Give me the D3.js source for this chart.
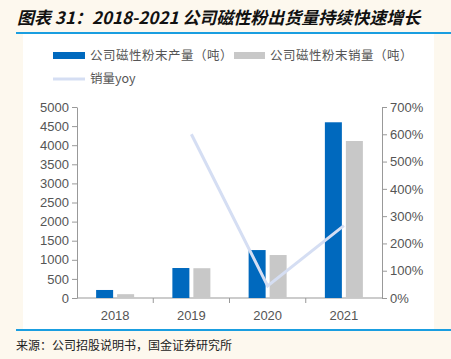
<!DOCTYPE html>
<html>
<head>
<meta charset="utf-8">
<script src="https://cdn.jsdelivr.net/npm/d3@7"></script>
<style>
  body { margin: 0; background: #fdf8ee; }
  svg { display: block; }
</style>
</head>
<body>
<div id="chart"></div>
<script>
  // data
  var years = ['2018', '2019', '2020', '2021'];
  var production = [210, 785, 1255, 4600];
  var sales = [100, 780, 1125, 4110];
  var yoy = [null, 6.0, 0.44, 2.65];
  var leftTicks = [0, 500, 1000, 1500, 2000, 2500, 3000, 3500, 4000, 4500, 5000];
  var rightTicks = [0, 1, 2, 3, 4, 5, 6, 7];

  var W = 451, H = 359;
  var cBlue = '#0069be', cGray = '#c8c8c8', cLine = '#d5def3';
  var cjk = '"Noto Sans CJK SC", sans-serif';

  var svg = d3.select('#chart').append('svg')
    .attr('width', W).attr('height', H);

  // background panel + rules
  svg.append('rect').attr('x', 23).attr('y', 34).attr('width', 411).attr('height', 296).attr('fill', '#fff');
  svg.append('rect').attr('x', 16).attr('y', 32).attr('width', 435).attr('height', 2).attr('fill', '#1a9ee0');
  svg.append('rect').attr('x', 16).attr('y', 329).attr('width', 435).attr('height', 2).attr('fill', '#1a9ee0');

  svg.append('text').attr('x', 17).attr('y', 24)
    .style('font-family', cjk).style('font-size', '17px')
    .style('font-weight', 'bold').style('font-style', 'italic')
    .attr('fill', '#111')
    .text('图表 31：2018-2021 公司磁性粉出货量持续快速增长');

  svg.append('text').attr('x', 16).attr('y', 350)
    .style('font-family', cjk).style('font-size', '12px')
    .attr('fill', '#222')
    .text('来源：公司招股说明书，国金证券研究所');

  // scales
  var x0 = d3.scaleBand().domain(years).range([77, 382]);
  var y = d3.scaleLinear().domain([0, 5000]).range([298, 107]);
  var y2 = d3.scaleLinear().domain([0, 7]).range([298, 107]);

  var tickFont = function(g) {
    g.selectAll('text').style('font-family', '"Liberation Sans", Arial, sans-serif')
      .style('font-size', '13px').attr('fill', '#555');
    g.selectAll('line, path').attr('stroke', '#999');
  };

  svg.append('g').attr('transform', 'translate(77,0)')
    .call(d3.axisLeft(y).tickValues(leftTicks).tickFormat(d3.format('d'))
      .tickSize(5).tickSizeOuter(0).tickPadding(3))
    .call(tickFont);

  svg.append('g').attr('transform', 'translate(382,0)')
    .call(d3.axisRight(y2).tickValues(rightTicks).tickFormat(function(d) { return (d * 100) + '%'; })
      .tickSize(5).tickSizeOuter(0).tickPadding(3))
    .call(tickFont);

  // x axis with ticks at band boundaries
  var xg = svg.append('g').attr('transform', 'translate(0,298)');
  xg.append('line').attr('x1', 77).attr('x2', 382).attr('stroke', '#999');
  xg.selectAll('.tk').data(years.slice(1)).enter().append('line')
    .attr('x1', function(d) { return x0(d); }).attr('x2', function(d) { return x0(d); })
    .attr('y1', 0).attr('y2', 5).attr('stroke', '#999');
  xg.selectAll('text').data(years).enter().append('text')
    .attr('x', function(d) { return x0(d) + x0.bandwidth() / 2; })
    .attr('y', 22).attr('text-anchor', 'middle')
    .style('font-family', '"Liberation Sans", Arial, sans-serif')
    .style('font-size', '13px').attr('fill', '#555')
    .text(function(d) { return d; });

  // bars
  var bw = 17, gap = 4;
  svg.selectAll('.prod').data(years).enter().append('rect')
    .attr('x', function(d) { return x0(d) + x0.bandwidth() / 2 - bw - gap / 2; })
    .attr('y', function(d, i) { return y(production[i]); })
    .attr('width', bw)
    .attr('height', function(d, i) { return y(0) - y(production[i]); })
    .attr('fill', cBlue);
  svg.selectAll('.sale').data(years).enter().append('rect')
    .attr('x', function(d) { return x0(d) + x0.bandwidth() / 2 + gap / 2; })
    .attr('y', function(d, i) { return y(sales[i]); })
    .attr('width', bw)
    .attr('height', function(d, i) { return y(0) - y(sales[i]); })
    .attr('fill', cGray);

  // yoy line
  var line = d3.line()
    .defined(function(d) { return d[1] != null; })
    .x(function(d) { return x0(d[0]) + x0.bandwidth() / 2; })
    .y(function(d) { return y2(d[1]); });
  svg.append('path')
    .datum(years.map(function(d, i) { return [d, yoy[i]]; }))
    .attr('d', line).attr('fill', 'none')
    .attr('stroke', cLine).attr('stroke-width', 3);

  // legend
  var lg = svg.append('g').style('font-family', cjk).style('font-size', '12.5px');
  lg.append('rect').attr('x', 53).attr('y', 52).attr('width', 32).attr('height', 7).attr('fill', cBlue);
  lg.append('text').attr('x', 90).attr('y', 60).attr('fill', '#555')
    .style('letter-spacing', '0.5px').text('公司磁性粉末产量（吨）');
  lg.append('rect').attr('x', 234).attr('y', 52).attr('width', 31).attr('height', 7).attr('fill', cGray);
  lg.append('text').attr('x', 270).attr('y', 60).attr('fill', '#555')
    .style('letter-spacing', '0.5px').text('公司磁性粉末销量（吨）');
  lg.append('line').attr('x1', 53).attr('x2', 85).attr('y1', 79).attr('y2', 79)
    .attr('stroke', cLine).attr('stroke-width', 3);
  lg.append('text').attr('x', 90).attr('y', 83).attr('fill', '#555').text('销量yoy');
</script>
</body>
</html>
